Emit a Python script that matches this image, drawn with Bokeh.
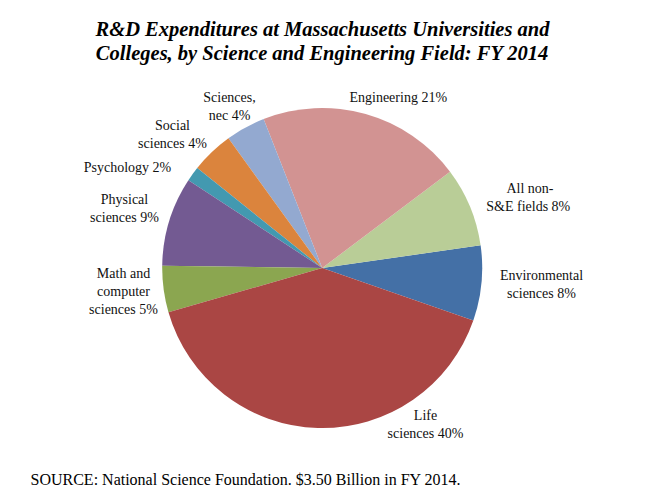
import math
from bokeh.plotting import figure
from bokeh.models import Range1d, ColumnDataSource
from bokeh.core.properties import value
from bokeh.embed import file_html
from bokeh.resources import INLINE

# ---- data ----
fields = ["Environmental sciences", "All non-S&E fields", "Engineering", "Sciences, nec",
          "Social sciences", "Psychology", "Physical sciences",
          "Math and computer sciences", "Life sciences"]
shares = [7.6, 8.0, 20.7, 4.0, 4.3, 1.5, 9.0, 4.7, 40.2]
label_names = ["Environmental\nsciences", "All non-\nS&E fields ", "Engineering ", "Sciences,\nnec",
               "Social\nsciences", "Psychology", "Physical\nsciences",
               "Math and\ncomputer\nsciences", "Life\nsciences"]
title_lines = ["R&D Expenditures at Massachusetts Universities and",
               "Colleges, by Science and Engineering Field: FY 2014"]
source_text = "SOURCE: National Science Foundation. $3.50 Billion in FY 2014."

# ---- styles / layout ----
colors = ["#4470A6", "#B9CD97", "#D29392", "#93A9D0", "#DB843D", "#4399B0",
          "#735A92", "#8BA650", "#AA4644"]
label_pos = [(541, 284), (529.5, 197), (399.5, 97), (229, 106), (172, 134),
             (127, 167), (124, 208), (123, 291), (425, 424)]
CX, CY, R = 321.7, 267.5, 160
START_DEG = -19.2
W, H = 637, 489
SERIF = "Liberation Serif"

p = figure(width=W, height=H, output_backend="svg", toolbar_location=None,
           x_range=Range1d(0, W), y_range=Range1d(-H, 0),
           min_border=0, outline_line_color=None)
p.axis.visible = False
p.grid.visible = False
p.background_fill_color = "white"
p.border_fill_color = "white"

total = sum(shares)
starts, ends = [], []
a = math.radians(START_DEG)
for s in shares:
    starts.append(a)
    a += 2 * math.pi * s / total
    ends.append(a)

src = ColumnDataSource(dict(field=fields, share=shares, start=starts, end=ends, color=colors))
p.wedge(x=CX, y=-CY, radius=R, start_angle="start", end_angle="end",
        fill_color="color", line_color=None, source=src)

# labels
lx, ly, lt = [], [], []
LH = 17.6
for name, s, (x, y) in zip(label_names, shares, label_pos):
    txt = f"{name} {round(s)}%"
    lines = txt.split("\n")
    n = len(lines)
    for i, ln in enumerate(lines):
        lx.append(x)
        ly.append(-(y + (i - (n - 1) / 2) * LH))
        lt.append(ln)
p.text(x=lx, y=ly, text=lt, text_font=value(SERIF), text_font_size="14px",
       text_align="center", text_baseline="middle", text_color="#111111")

# title
p.text(x=[322, 322], y=[-28, -52], text=title_lines, text_font=value(SERIF),
       text_font_size="20.5px", text_font_style="bold italic",
       text_align="center", text_baseline="middle", text_color="black")

# source
p.text(x=[30], y=[-479], text=[source_text], text_font=value(SERIF),
       text_font_size="16px", text_align="left", text_baseline="middle",
       text_color="black")

open("out.html", "w").write(file_html(p, INLINE))
